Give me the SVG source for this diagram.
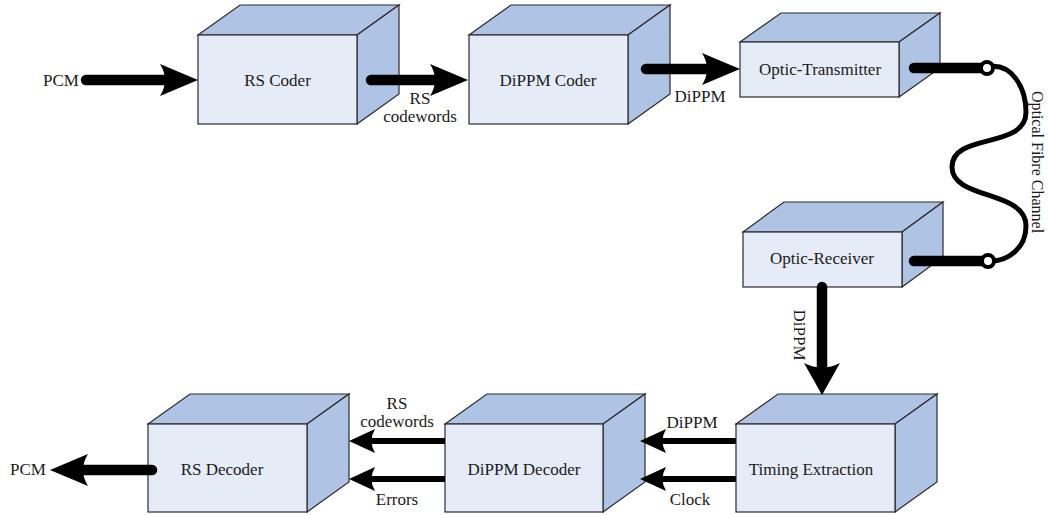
<svg xmlns="http://www.w3.org/2000/svg" width="1048" height="515" viewBox="0 0 1048 515">
<style>
.front{fill:#E6ECF7;stroke:#2a2a2a;stroke-width:1.2}
.face{fill:#AFC4E4;stroke:#2a2a2a;stroke-width:1.2}
text{font-family:"Liberation Serif","Times New Roman",serif;font-size:17px;fill:#1a1a1a}
.c{text-anchor:middle}
.big{stroke:#000;stroke-width:10.5;stroke-linecap:round;fill:none}
.small{stroke:#000;stroke-width:6;stroke-linecap:butt;fill:none}
.fibre{stroke:#000;stroke-width:5;fill:none}
.port{fill:#fff;stroke:#000;stroke-width:4}
</style>
<defs>
<marker id="ahBig" markerUnits="userSpaceOnUse" orient="auto" refX="8" refY="0" markerWidth="40" markerHeight="40" overflow="visible">
<path d="M0,-16 L38,0 L0,16 Q10,0 0,-16 Z" fill="#000"/>
</marker>
<marker id="ahV" markerUnits="userSpaceOnUse" orient="auto" refX="6" refY="0" markerWidth="40" markerHeight="40" overflow="visible">
<path d="M0,-18 L32,0 L0,18 Q9,0 0,-18 Z" fill="#000"/>
</marker>
<marker id="ahSmall" markerUnits="userSpaceOnUse" orient="auto" refX="6" refY="0" markerWidth="30" markerHeight="30" overflow="visible">
<path d="M0,-12 L26,0 L0,12 Q7,0 0,-12 Z" fill="#000"/>
</marker>
</defs>

<g id="rs-coder">
<polygon class="face" points="198,35 240,5 399,5 357,35"/>
<polygon class="face" points="357,35 399,5 399,94 357,124"/>
<rect class="front" x="198" y="35" width="159" height="89"/>
<text class="c" x="277.5" y="86">RS Coder</text>
</g>

<g id="dippm-coder">
<polygon class="face" points="469,35 511,5 670,5 628,35"/>
<polygon class="face" points="628,35 670,5 670,94 628,124"/>
<rect class="front" x="469" y="35" width="159" height="89"/>
<text class="c" x="548" y="86">DiPPM Coder</text>
</g>

<g id="optic-transmitter">
<polygon class="face" points="740,42 781,13 940,13 899,42"/>
<polygon class="face" points="899,42 940,13 940,68 899,97"/>
<rect class="front" x="740" y="42" width="159" height="55"/>
<text class="c" x="820" y="75">Optic-Transmitter</text>
</g>

<g id="optic-receiver">
<polygon class="face" points="743,232 784,202 943,202 902,232"/>
<polygon class="face" points="902,232 943,202 943,257 902,287"/>
<rect class="front" x="743" y="232" width="159" height="55"/>
<text class="c" x="822" y="264">Optic-Receiver</text>
</g>

<g id="timing-extraction">
<polygon class="face" points="736,424 778,394 937,394 895,424"/>
<polygon class="face" points="895,424 937,394 937,482 895,512"/>
<rect class="front" x="736" y="424" width="159" height="88"/>
<text class="c" x="811" y="475">Timing Extraction</text>
</g>

<g id="dippm-decoder">
<polygon class="face" points="445,424 487,394 645,394 603,424"/>
<polygon class="face" points="603,424 645,394 645,482 603,512"/>
<rect class="front" x="445" y="424" width="158" height="88"/>
<text class="c" x="524" y="475">DiPPM Decoder</text>
</g>

<g id="rs-decoder">
<polygon class="face" points="148,424 190,394 349,394 307,424"/>
<polygon class="face" points="307,424 349,394 349,482 307,512"/>
<rect class="front" x="148" y="424" width="159" height="88"/>
<text class="c" x="222" y="475">RS Decoder</text>
</g>

<g id="connectors">
<line class="big" x1="86" y1="80" x2="168" y2="80" marker-end="url(#ahBig)"/>
<line class="big" x1="371" y1="80" x2="438" y2="80" marker-end="url(#ahBig)"/>
<line class="big" x1="646" y1="69" x2="710" y2="69" marker-end="url(#ahBig)"/>
<line class="big" x1="914" y1="68" x2="987" y2="68"/>
<path class="fibre" d="M987,67 C1012,62 1026,88 1026,112 C1026,150 952,132 952,167 C952,200 1026,190 1026,226 C1026,248 1008,262 988,261"/>
<circle class="port" cx="987" cy="68" r="6"/>
<line class="big" x1="914" y1="261" x2="988" y2="261"/>
<circle class="port" cx="988" cy="261" r="6"/>
<line class="big" x1="822" y1="287" x2="822" y2="369" marker-end="url(#ahV)"/>
<line class="small" x1="736" y1="441" x2="660" y2="441" marker-end="url(#ahSmall)"/>
<line class="small" x1="736" y1="479" x2="660" y2="479" marker-end="url(#ahSmall)"/>
<line class="small" x1="445" y1="441" x2="369" y2="441" marker-end="url(#ahSmall)"/>
<line class="small" x1="445" y1="479" x2="369" y2="479" marker-end="url(#ahSmall)"/>
<line class="big" x1="152" y1="470" x2="80" y2="470" marker-end="url(#ahBig)"/>
</g>

<g id="labels">
<text x="43" y="86">PCM</text>
<text class="c" x="420" y="104">RS</text>
<text class="c" x="420" y="122">codewords</text>
<text class="c" x="700" y="102">DiPPM</text>
<text class="c" transform="translate(1032,162) rotate(90)" style="font-size:16px">Optical Fibre Channel</text>
<text class="c" transform="translate(794,335) rotate(90)">DiPPM</text>
<text class="c" x="692" y="428">DiPPM</text>
<text class="c" x="690" y="505">Clock</text>
<text class="c" x="397" y="409">RS</text>
<text class="c" x="397" y="427">codewords</text>
<text class="c" x="397" y="505">Errors</text>
<text x="10" y="475">PCM</text>
</g>
</svg>
